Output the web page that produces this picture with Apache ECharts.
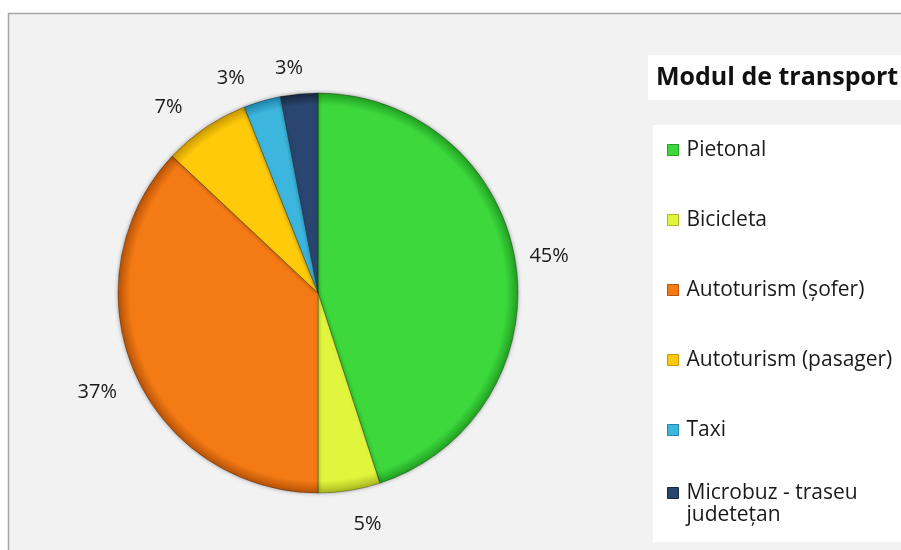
<!DOCTYPE html>
<html>
<head>
<meta charset="utf-8">
<script src="https://cdn.jsdelivr.net/npm/echarts@6/dist/echarts.min.js"></script>
<style>
  html, body { margin: 0; padding: 0; background: #ffffff; }
  #chart { width: 901px; height: 550px; }
</style>
</head>
<body>
<div id="chart"></div>
<script>
// Modal split of trips (share of trips, %)
const categories = [
  'Pietonal',
  'Bicicleta',
  'Autoturism (șofer)',
  'Autoturism (pasager)',
  'Taxi',
  'Microbuz - traseu\njudetețan'
];
const shares = [45, 5, 37, 7, 3, 3];
const titleText = 'Modul de transport';

// slice colours and their darker rim shades
const palette = ['#3cd83c', '#e0f53c', '#f37a14', '#ffca0a', '#3db6dd', '#2a4670'];
const rims    = ['#22a022', '#aab820', '#b85206', '#c99800', '#1f84a8', '#17283f'];

// small nudges that keep the percentage labels clear of each other
const labelNudge = [[0, 0], [13, 0], [-6, 6], [-18, 8], [-22, 10], [-7, 8]];

const CX = 318, CY = 293, R = 200;
const FONT = '"Open Sans", Lato, sans-serif';

function sliceFill(i) {
  return {
    type: 'radial', x: CX, y: CY, r: R, global: true,
    colorStops: [
      { offset: 0, color: palette[i] },
      { offset: 0.94, color: palette[i] },
      { offset: 1, color: rims[i] }
    ]
  };
}

const pieData = categories.map((name, i) => ({
  name: name,
  value: shares[i],
  itemStyle: { color: sliceFill(i) }
}));

const labelData = categories.map((name, i) => ({
  name: name,
  value: shares[i],
  label: { offset: labelNudge[i] }
}));

function legendEntry(name) {
  const i = categories.indexOf(name);
  return { name: name, itemStyle: { color: palette[i], borderColor: rims[i], borderWidth: 1 } };
}

// single-line entries go in the main list; wrapped entries get their own block
const singleLine = categories.filter(n => n.indexOf('\n') < 0);
const multiLine = categories.filter(n => n.indexOf('\n') >= 0);

const legendBase = {
  orient: 'vertical',
  padding: 0,
  itemWidth: 11, itemHeight: 11,
  icon: 'rect',
  textStyle: { fontFamily: FONT, fontSize: 21, color: '#1a1a1a', lineHeight: 22, padding: [0, 0, 0, 3] }
};

const chart = echarts.init(document.getElementById('chart'), null, { renderer: 'canvas' });

chart.setOption({
  animation: false,
  backgroundColor: '#ffffff',
  graphic: [
    { type: 'rect', z: -10, shape: { x: 8.5, y: 13.5, width: 1000, height: 1000 },
      style: { fill: '#f2f2f2', stroke: '#a6a6a6', lineWidth: 1.5 } },
    { type: 'rect', z: -5, shape: { x: 648, y: 55, width: 260, height: 45 },
      style: { fill: '#ffffff' } },
    { type: 'rect', z: -5, shape: { x: 653, y: 125, width: 260, height: 417 },
      style: { fill: '#ffffff' } }
  ],
  title: {
    text: titleText,
    left: 656, top: 63, padding: 0,
    textStyle: { fontFamily: FONT, fontWeight: 'bold', fontSize: 25, lineHeight: 30, color: '#111111' }
  },
  legend: [
    Object.assign({}, legendBase, {
      left: 667, top: 139,
      itemGap: 48,
      data: singleLine.map(legendEntry)
    }),
    Object.assign({}, legendBase, {
      left: 667, top: 460,
      // a leading blank line keeps the swatch level with the first text line
      formatter: name => '\n' + name,
      data: multiLine.map(legendEntry)
    })
  ],
  series: [
    {
      type: 'pie',
      center: [CX, CY],
      radius: [0, R],
      startAngle: 90,
      clockwise: true,
      avoidLabelOverlap: false,
      label: { show: false },
      labelLine: { show: false },
      itemStyle: {
        borderColor: 'rgba(0,0,0,0.28)',
        borderWidth: 1,
        shadowBlur: 4,
        shadowColor: 'rgba(0,0,0,0.35)'
      },
      emphasis: { disabled: true },
      data: pieData
    },
    {
      // ring of zero width that carries the percentage labels just outside the pie
      type: 'pie',
      center: [CX, CY],
      radius: [R + 31, R + 31],
      startAngle: 90,
      clockwise: true,
      silent: true,
      legendHoverLink: false,
      avoidLabelOverlap: false,
      itemStyle: { color: 'transparent', borderWidth: 0 },
      labelLine: { show: false },
      label: {
        show: true,
        position: 'inside',
        formatter: '{d}%',
        fontFamily: FONT,
        fontSize: 20,
        color: '#1a1a1a'
      },
      emphasis: { disabled: true },
      data: labelData
    }
  ]
});
</script>
</body>
</html>
